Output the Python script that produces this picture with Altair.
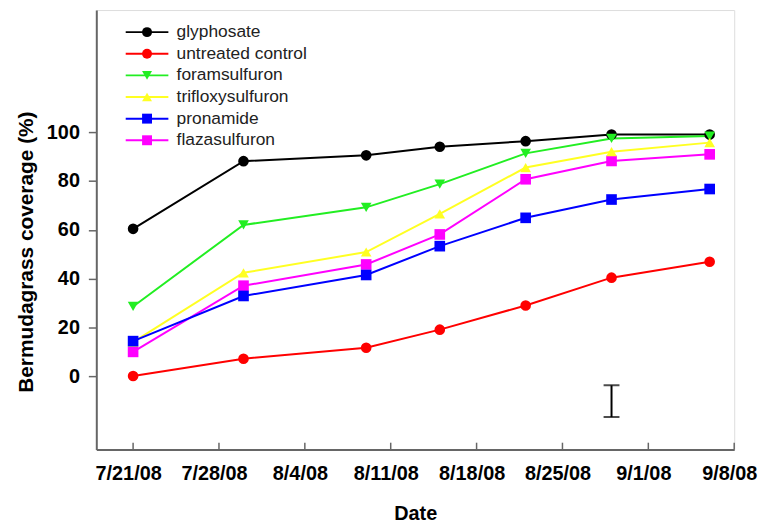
import altair as alt
import pandas as pd

# ---- data ----
dates = ["2008-07-21", "2008-07-30", "2008-08-09", "2008-08-15",
         "2008-08-22", "2008-08-29", "2008-09-06"]
series_names = ["glyphosate", "untreated control", "foramsulfuron",
                "trifloxysulfuron", "pronamide", "flazasulfuron"]
glyphosate = [60.4, 88.1, 90.5, 94.0, 96.3, 99.0, 99.0]
untreated_control = [0.1, 7.2, 11.7, 19.1, 29.0, 40.4, 46.9]
foramsulfuron = [28.6, 62.0, 69.2, 78.7, 91.3, 97.4, 98.4]
trifloxysulfuron = [14.0, 42.4, 50.9, 66.5, 85.5, 92.0, 95.7]
pronamide = [14.4, 32.9, 41.5, 53.3, 64.9, 72.4, 76.7]
flazasulfuron = [10.0, 37.1, 45.8, 58.1, 80.7, 88.2, 90.9]

colors = ["#000000", "#ff0000", "#22ee22", "#ffff22", "#0000ff", "#ff00ff"]
shapes = ["circle", "circle", "triangle-down", "triangle-up", "square", "square"]

tick_dates = ["2008-07-21", "2008-07-28", "2008-08-04", "2008-08-11",
              "2008-08-18", "2008-08-25", "2008-09-01", "2008-09-08"]
y_ticks = [0, 20, 40, 60, 80, 100]

lsd_date = ["2008-08-29"]
lsd_low = [-16.7]
lsd_high = [-3.7]

# ---- tables ----
values = {
    "glyphosate": glyphosate,
    "untreated control": untreated_control,
    "foramsulfuron": foramsulfuron,
    "trifloxysulfuron": trifloxysulfuron,
    "pronamide": pronamide,
    "flazasulfuron": flazasulfuron,
}
draw_order = ["glyphosate", "untreated control", "flazasulfuron",
              "foramsulfuron", "trifloxysulfuron", "pronamide"]
LINE_TAG = "line: "
rows = []
for s in draw_order:
    for d, v in zip(dates, values[s]):
        rows.append({"date": d, "cover": v, "series_ln": LINE_TAG + s, "series_pt": s})
df = pd.DataFrame(rows)

ticks_df = pd.DataFrame({"date": tick_dates,
                         "cover": [-30.0] * len(tick_dates),
                         "cover2": [-27.2] * len(tick_dates)})
lsd_df = pd.DataFrame({"date": lsd_date, "cover": lsd_low, "cover2": lsd_high})


def dt(s):
    y, m, d = (int(p) for p in s.split("-"))
    return alt.DateTime(year=y, month=m, date=d, utc=True)


FONT = "Liberation Sans"
AX = "#666666"

xscale = alt.Scale(type="utc", domain=[dt("2008-07-18"), dt("2008-09-08")], nice=False)
yscale = alt.Scale(domain=[-30, 150], nice=False, zero=False)

xaxis = alt.Axis(values=[dt(s) for s in tick_dates],
                 labelExpr="utcFormat(datum.value, '%-m/%-d/%y')",
                 title="Date", grid=False,
                 labelFont=FONT, labelFontSize=20, labelFontWeight="bold",
                 labelColor="black", labelPadding=30.7, labelBaseline="alphabetic",
                 labelFlush=False, labelOverlap=False, labelOffset=-5,
                 ticks=False, tickSize=0,
                 domainColor=AX, domainWidth=2,
                 titleFont=FONT, titleFontSize=20, titleFontWeight="bold",
                 titleColor="black", titleY=70.7, titleBaseline="alphabetic")
yaxis = alt.Axis(values=y_ticks, title="Bermudagrass coverage (%)", grid=False,
                 labelFont=FONT, labelFontSize=20, labelFontWeight="bold",
                 labelColor="black", labelPadding=9,
                 tickSize=8, tickColor=AX, tickWidth=1.5,
                 domainColor=AX, domainWidth=2,
                 titleFont=FONT, titleFontSize=21, titleFontWeight="bold",
                 titleColor="black", titleX=-64, titleY=243.5,
                 titleBaseline="alphabetic")

X = alt.X("date:T", scale=xscale, axis=xaxis)
Y = alt.Y("cover:Q", scale=yscale, axis=yaxis)

LX, LY = 42.4, 13.5
LFS = 17.5
RP = 2.8
line_legend = alt.Legend(title=None, orient="none", legendX=LX, legendY=LY,
                         symbolType="M-4.3,0H4.3", symbolSize=100,
                         symbolStrokeWidth=2, labelFont=FONT, labelFontSize=LFS,
                         labelExpr="''", labelOffset=21, rowPadding=RP, padding=0)
pt_legend = alt.Legend(title=None, orient="none", legendX=LX, legendY=LY,
                       symbolSize=100, symbolStrokeWidth=0, symbolOpacity=1,
                       labelFont=FONT, labelFontSize=LFS, labelColor="#222222",
                       labelOffset=21, rowPadding=RP, padding=0)

lines = alt.Chart(df).mark_line(strokeWidth=2).encode(
    x=X, y=Y,
    stroke=alt.Stroke("series_ln:N",
                      scale=alt.Scale(domain=[LINE_TAG + s for s in series_names],
                                      range=colors),
                      legend=line_legend),
)
points = alt.Chart(df).mark_point(filled=True, size=115, opacity=1, strokeWidth=0).encode(
    x=X, y=Y,
    fill=alt.Fill("series_pt:N", scale=alt.Scale(domain=series_names, range=colors),
                  legend=pt_legend),
    shape=alt.Shape("series_pt:N", scale=alt.Scale(domain=series_names, range=shapes),
                    legend=pt_legend),
)
xticks = alt.Chart(ticks_df).mark_rule(color=AX, strokeWidth=1.5).encode(
    x=X, y=Y, y2="cover2:Q")
errbar = alt.Chart(lsd_df).mark_rule(color="black", strokeWidth=2).encode(
    x=X, y=Y, y2="cover2:Q")
caps = alt.Chart(lsd_df).transform_fold(["cover", "cover2"], as_=["k", "capv"]).mark_tick(
    orient="horizontal", size=16, thickness=2, color="black").encode(
    x=X, y=alt.Y("capv:Q", scale=yscale, axis=yaxis))

chart = alt.layer(lines, points, xticks, errbar, caps).properties(
    width=643, height=443,
    autosize=alt.AutoSizeParams(type="none"),
    padding={"left": 89, "top": 0, "right": 25, "bottom": 75},
).configure_view(stroke=AX, strokeWidth=2).configure(font=FONT)

chart.save("out.html", embed_options={"renderer": "svg", "actions": False})
